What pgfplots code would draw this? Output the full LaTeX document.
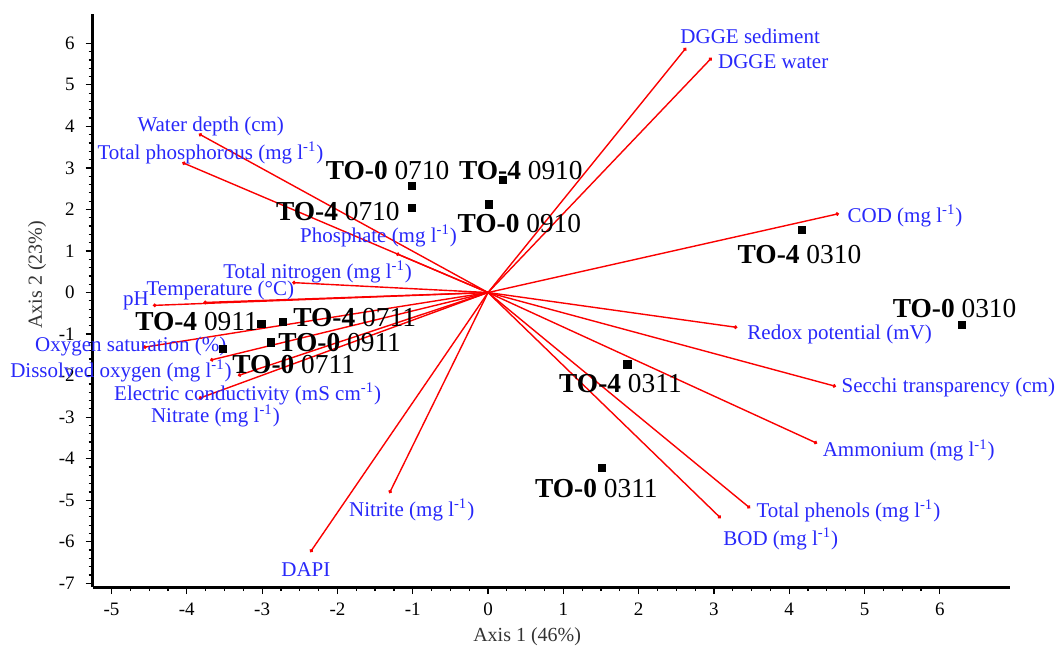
\documentclass[border=0pt]{standalone}
\usepackage{fontspec}
\setmainfont{Liberation Serif}
\usepackage{pgfplots}
\pgfplotsset{compat=1.18}
\usepackage{pgfplotstable}
\usetikzlibrary{arrows.meta}
\definecolor{lblue}{RGB}{40,40,250}
\definecolor{vred}{RGB}{250,0,0}

\pgfplotstableread{
x y u v
0 0 2.63 5.89
0 0 2.97 5.65
0 0 4.66 1.90
0 0 3.31 -0.84
0 0 4.62 -2.26
0 0 4.37 -3.63
0 0 3.48 -5.19
0 0 3.09 -5.43
0 0 -1.31 -4.83
0 0 -2.36 -6.25
0 0 -3.84 3.82
0 0 -4.06 3.13
0 0 -1.22 0.94
0 0 -2.60 0.24
0 0 -3.78 -0.24
0 0 -4.45 -0.31
0 0 -4.58 -1.32
0 0 -3.69 -1.63
0 0 -3.32 -2.00
0 0 -3.84 -2.55
}\vectors

\pgfplotstableread{
x y
-1.01 2.57
-1.01 2.04
0.20 2.72
0.01 2.12
4.17 1.51
6.29 -0.77
1.85 -1.73
1.51 -4.23
-3.01 -0.75
-2.72 -0.70
-2.88 -1.20
-3.52 -1.35
}\samples

\newcommand{\vl}{\fontsize{10.5}{12}\selectfont\color{lblue}}
\newcommand{\smp}[2]{\fontsize{13.7}{16}\selectfont\textbf{#1} #2}
\newcommand{\mgl}{(mg l\textsuperscript{-1})}

\begin{document}
\begin{tikzpicture}
\begin{axis}[
  scale only axis,
  width=458.6pt, height=286.4pt,
  xmin=-5.25, xmax=6.93, ymin=-7.09, ymax=6.70,
  axis lines=left,
  axis line style={line width=1.5pt, -},
  clip=false,
  xtick={-5,-4,-3,-2,-1,0,1,2,3,4,5,6},
  xticklabels={-5,-4,-3,-2,-1,0,1,2,3,4,5,6},
  ytick={-7,-6,-5,-4,-3,-2,-1,0,1,2,3,4,5,6},
  yticklabels={-7,-6,-5,-4,-3,-2,-1,0,1,2,3,4,5,6},
  minor x tick num=3,
  minor y tick num=4,
  tick align=outside,
  major tick length=3.5pt,
  minor tick length=2pt,
  every tick/.style={black, line width=0.6pt},
  tick label style={font=\fontsize{9.5}{11}\selectfont},
  xticklabel style={yshift=-1pt},
  yticklabel style={xshift=-2pt},
]
\addplot[vred, line width=0.7pt, -{Circle[length=1.8pt]},
  quiver={u=\thisrow{u}, v=\thisrow{v}}] table {\vectors};
\addplot[only marks, mark=square*, mark size=1.8pt, black] table {\samples};

% variable labels
\begin{scope}[every node/.style={anchor=west, inner sep=0pt}]
\node at (axis cs:2.55,6.18) {\vl DGGE sediment};
\node at (axis cs:3.05,5.55) {\vl DGGE water};
\node at (axis cs:4.77,1.85) {\vl COD \mgl};
\node at (axis cs:3.44,-1.01) {\vl Redox potential (mV)};
\node at (axis cs:4.69,-2.28) {\vl Secchi transparency (cm)};
\node at (axis cs:4.44,-3.80) {\vl Ammonium \mgl};
\node at (axis cs:3.56,-5.26) {\vl Total phenols \mgl};
\node at (axis cs:3.12,-5.94) {\vl BOD \mgl};
\node at (axis cs:-1.85,-5.24) {\vl Nitrite \mgl};
\node at (axis cs:-2.75,-6.66) {\vl DAPI};
\node at (axis cs:-4.66,4.01) {\vl Water depth (cm)};
\node at (axis cs:-5.19,3.37) {\vl Total phosphorous \mgl};
\node at (axis cs:-2.50,1.37) {\vl Phosphate \mgl};
\node at (axis cs:-3.52,0.50) {\vl Total nitrogen \mgl};
\node at (axis cs:-4.54,0.05) {\vl Temperature (°C)};
\node at (axis cs:-4.85,-0.19) {\vl pH};
\node at (axis cs:-6.02,-1.30) {\vl Oxygen saturation (\%)};
\node at (axis cs:-6.35,-1.88) {\vl Dissolved oxygen \mgl};
\node at (axis cs:-4.97,-2.43) {\vl Electric conductivity (mS cm\textsuperscript{-1})};
\node at (axis cs:-4.48,-2.98) {\vl Nitrate \mgl};

% sample labels
\node at (axis cs:-2.16,2.93) {\smp{TO-0}{0710}};
\node at (axis cs:-0.39,2.93) {\smp{TO-4}{0910}};
\node at (axis cs:-2.82,1.95) {\smp{TO-4}{0710}};
\node at (axis cs:-0.41,1.66) {\smp{TO-0}{0910}};
\node at (axis cs:3.31,0.91) {\smp{TO-4}{0310}};
\node at (axis cs:5.37,-0.38) {\smp{TO-0}{0310}};
\node at (axis cs:0.94,-2.19) {\smp{TO-4}{0311}};
\node at (axis cs:0.62,-4.71) {\smp{TO-0}{0311}};
\node at (axis cs:-4.69,-0.70) {\smp{TO-4}{0911}};
\node at (axis cs:-2.59,-0.60) {\smp{TO-4}{0711}};
\node at (axis cs:-2.79,-1.20) {\smp{TO-0}{0911}};
\node at (axis cs:-3.40,-1.73) {\smp{TO-0}{0711}};
\end{scope}

\node[font=\fontsize{10}{12}\selectfont, text=black!80] at (axis cs:0.52,-8.29) {Axis 1 (46\%)};
\node[font=\fontsize{10}{12}\selectfont, text=black!80, rotate=90] at (axis cs:-5.99,0.43) {Axis 2 (23\%)};

\coordinate (bbl) at (axis cs:-6.481,-8.654);
\coordinate (bur) at (axis cs:7.556,7.043);
\end{axis}
\pgfresetboundingbox
\path[use as bounding box] (bbl) rectangle (bur);
\end{tikzpicture}
\end{document}
